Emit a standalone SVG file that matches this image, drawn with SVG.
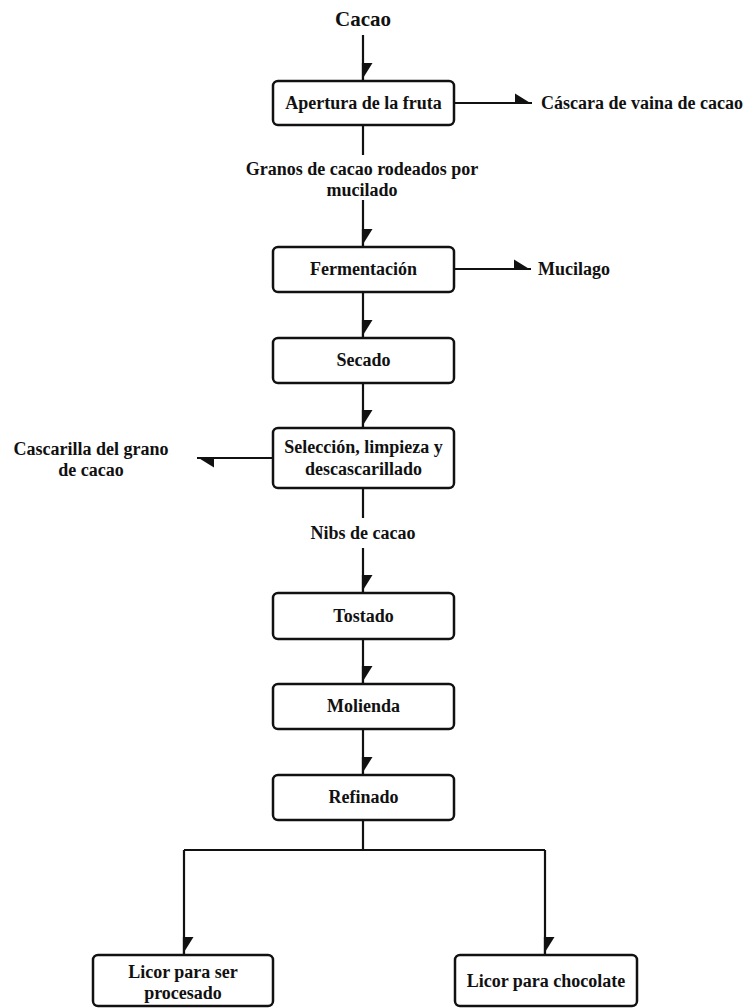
<svg xmlns="http://www.w3.org/2000/svg" width="745" height="1008" viewBox="0 0 745 1008">
<style>
.box{fill:#fff;stroke:#111;stroke-width:2.5}
.t{font-family:"Liberation Serif","Times New Roman",serif;font-weight:bold;font-size:18px;fill:#111;text-anchor:middle}
.s{text-anchor:start}
.c{fill:none;stroke:#111;stroke-width:2.2}
.a{marker-end:url(#ah)}
</style>
<defs>
<marker id="ah" markerUnits="userSpaceOnUse" markerWidth="20" markerHeight="20" viewBox="0 -10 20 20" refX="17" refY="0" orient="auto">
<path d="M0,-9.5 L17,1.1 L0,1.1 Z" fill="#111"/>
</marker>
</defs>
<g id="connectors">
<path class="c a" d="M363,35 V80"/>
<path class="c a" d="M454,103 H532"/>
<path class="c" d="M363,125 V155"/>
<path class="c a" d="M363,200 V246"/>
<path class="c a" d="M454,269 H531"/>
<path class="c a" d="M363,292 V337"/>
<path class="c a" d="M363,383 V427"/>
<path class="c a" d="M273,458 H197"/>
<path class="c" d="M363,488 V518"/>
<path class="c a" d="M363,548 V592"/>
<path class="c a" d="M363,639 V683"/>
<path class="c a" d="M363,729 V774"/>
<path class="c" d="M363,820 V850"/>
<path class="c" d="M184,850 H545"/>
<path class="c a" d="M184,850 V954"/>
<path class="c a" d="M545,850 V954"/>
</g>
<g id="cacao"><text class="t" x="363" y="26" style="font-size:21px">Cacao</text></g>
<g id="apertura"><rect class="box" x="273" y="81" width="181" height="44" rx="5"/><text class="t" x="363.5" y="109">Apertura de la fruta</text></g>
<g id="cascara"><text class="t s" x="541" y="109">Cáscara de vaina de cacao</text></g>
<g id="granos"><text class="t" x="362" y="175">Granos de cacao rodeados por</text><text class="t" x="362" y="196">mucilado</text></g>
<g id="fermentacion"><rect class="box" x="273" y="247" width="181" height="45" rx="5"/><text class="t" x="363.5" y="275">Fermentación</text></g>
<g id="mucilago"><text class="t s" x="538" y="275">Mucilago</text></g>
<g id="secado"><rect class="box" x="273" y="338" width="181" height="45" rx="5"/><text class="t" x="363.5" y="366">Secado</text></g>
<g id="seleccion"><rect class="box" x="273" y="428" width="181" height="60" rx="5"/><text class="t" x="363.5" y="453">Selección, limpieza y</text><text class="t" x="363.5" y="475">descascarillado</text></g>
<g id="cascarilla"><text class="t" x="91" y="455">Cascarilla del grano</text><text class="t" x="91" y="476">de cacao</text></g>
<g id="nibs"><text class="t" x="363" y="539">Nibs de cacao</text></g>
<g id="tostado"><rect class="box" x="273" y="593" width="181" height="46" rx="5"/><text class="t" x="363.5" y="622">Tostado</text></g>
<g id="molienda"><rect class="box" x="273" y="684" width="181" height="45" rx="5"/><text class="t" x="363.5" y="712">Molienda</text></g>
<g id="refinado"><rect class="box" x="273" y="775" width="181" height="45" rx="5"/><text class="t" x="363.5" y="803">Refinado</text></g>
<g id="licor-procesado"><rect class="box" x="93" y="955" width="180" height="51" rx="5"/><text class="t" x="183" y="978">Licor para ser</text><text class="t" x="183" y="999">procesado</text></g>
<g id="licor-chocolate"><rect class="box" x="455" y="955" width="182" height="51" rx="5"/><text class="t" x="546" y="987">Licor para chocolate</text></g>
</svg>
